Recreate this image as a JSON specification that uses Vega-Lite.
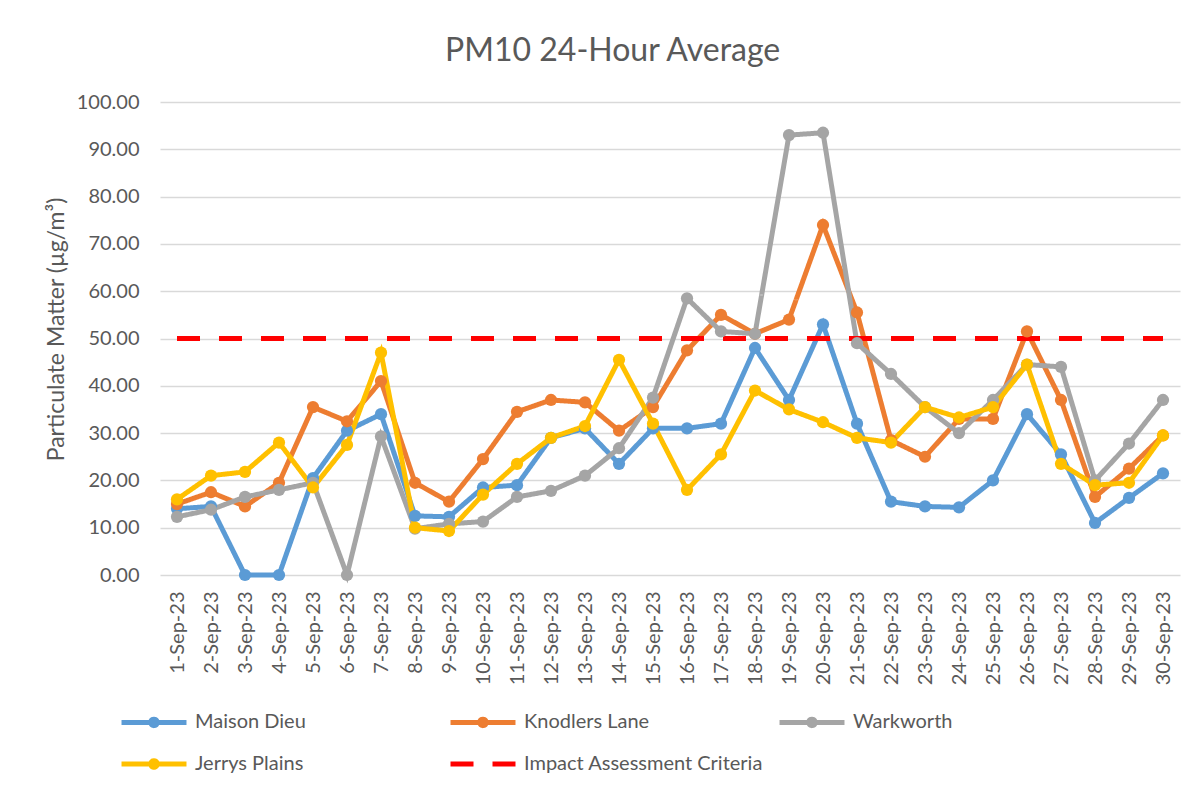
{
  "$schema": "https://vega.github.io/schema/vega-lite/v6.json",
  "autosize": {"type": "none"},
  "width": 1020,
  "height": 473,
  "padding": {"left": 160, "top": 102, "right": 18, "bottom": 214},
  "background": "white",
  "config": {
    "font": "Lato",
    "view": {"stroke": null},
    "axis": {"labelColor": "#595959", "titleColor": "#595959", "titleFontWeight": "normal"}
  },
  "title": {"text": "PM10 24-Hour Average", "fontSize": 32, "fontWeight": "normal", "color": "#595959", "anchor": "middle", "frame": "bounds", "offset": 24},
  "data": {
    "values": [
      {"d": "1-Sep-23", "Maison Dieu": 14.0, "Knodlers Lane": 15.0, "Warkworth": 12.3, "Jerrys Plains": 16.0, "Impact Assessment Criteria": 50},
      {"d": "2-Sep-23", "Maison Dieu": 14.5, "Knodlers Lane": 17.5, "Warkworth": 13.8, "Jerrys Plains": 21.0, "Impact Assessment Criteria": 50},
      {"d": "3-Sep-23", "Maison Dieu": 0.0, "Knodlers Lane": 14.5, "Warkworth": 16.5, "Jerrys Plains": 21.8, "Impact Assessment Criteria": 50},
      {"d": "4-Sep-23", "Maison Dieu": 0.0, "Knodlers Lane": 19.5, "Warkworth": 18.0, "Jerrys Plains": 28.0, "Impact Assessment Criteria": 50},
      {"d": "5-Sep-23", "Maison Dieu": 20.5, "Knodlers Lane": 35.5, "Warkworth": 19.5, "Jerrys Plains": 18.5, "Impact Assessment Criteria": 50},
      {"d": "6-Sep-23", "Maison Dieu": 30.5, "Knodlers Lane": 32.5, "Warkworth": 0.0, "Jerrys Plains": 27.5, "Impact Assessment Criteria": 50},
      {"d": "7-Sep-23", "Maison Dieu": 34.0, "Knodlers Lane": 41.0, "Warkworth": 29.3, "Jerrys Plains": 47.0, "Impact Assessment Criteria": 50},
      {"d": "8-Sep-23", "Maison Dieu": 12.5, "Knodlers Lane": 19.5, "Warkworth": 9.8, "Jerrys Plains": 10.0, "Impact Assessment Criteria": 50},
      {"d": "9-Sep-23", "Maison Dieu": 12.3, "Knodlers Lane": 15.5, "Warkworth": 10.8, "Jerrys Plains": 9.3, "Impact Assessment Criteria": 50},
      {"d": "10-Sep-23", "Maison Dieu": 18.5, "Knodlers Lane": 24.5, "Warkworth": 11.3, "Jerrys Plains": 17.0, "Impact Assessment Criteria": 50},
      {"d": "11-Sep-23", "Maison Dieu": 19.0, "Knodlers Lane": 34.5, "Warkworth": 16.5, "Jerrys Plains": 23.5, "Impact Assessment Criteria": 50},
      {"d": "12-Sep-23", "Maison Dieu": 29.0, "Knodlers Lane": 37.0, "Warkworth": 17.8, "Jerrys Plains": 29.0, "Impact Assessment Criteria": 50},
      {"d": "13-Sep-23", "Maison Dieu": 31.0, "Knodlers Lane": 36.5, "Warkworth": 21.0, "Jerrys Plains": 31.5, "Impact Assessment Criteria": 50},
      {"d": "14-Sep-23", "Maison Dieu": 23.5, "Knodlers Lane": 30.5, "Warkworth": 26.8, "Jerrys Plains": 45.5, "Impact Assessment Criteria": 50},
      {"d": "15-Sep-23", "Maison Dieu": 31.0, "Knodlers Lane": 35.5, "Warkworth": 37.5, "Jerrys Plains": 32.0, "Impact Assessment Criteria": 50},
      {"d": "16-Sep-23", "Maison Dieu": 31.0, "Knodlers Lane": 47.5, "Warkworth": 58.5, "Jerrys Plains": 18.0, "Impact Assessment Criteria": 50},
      {"d": "17-Sep-23", "Maison Dieu": 32.0, "Knodlers Lane": 55.0, "Warkworth": 51.5, "Jerrys Plains": 25.5, "Impact Assessment Criteria": 50},
      {"d": "18-Sep-23", "Maison Dieu": 48.0, "Knodlers Lane": 51.0, "Warkworth": 51.0, "Jerrys Plains": 39.0, "Impact Assessment Criteria": 50},
      {"d": "19-Sep-23", "Maison Dieu": 37.0, "Knodlers Lane": 54.0, "Warkworth": 93.0, "Jerrys Plains": 35.0, "Impact Assessment Criteria": 50},
      {"d": "20-Sep-23", "Maison Dieu": 53.0, "Knodlers Lane": 74.0, "Warkworth": 93.5, "Jerrys Plains": 32.3, "Impact Assessment Criteria": 50},
      {"d": "21-Sep-23", "Maison Dieu": 32.0, "Knodlers Lane": 55.5, "Warkworth": 49.0, "Jerrys Plains": 29.0, "Impact Assessment Criteria": 50},
      {"d": "22-Sep-23", "Maison Dieu": 15.5, "Knodlers Lane": 28.5, "Warkworth": 42.5, "Jerrys Plains": 28.0, "Impact Assessment Criteria": 50},
      {"d": "23-Sep-23", "Maison Dieu": 14.5, "Knodlers Lane": 25.0, "Warkworth": 35.5, "Jerrys Plains": 35.5, "Impact Assessment Criteria": 50},
      {"d": "24-Sep-23", "Maison Dieu": 14.3, "Knodlers Lane": 33.0, "Warkworth": 30.0, "Jerrys Plains": 33.3, "Impact Assessment Criteria": 50},
      {"d": "25-Sep-23", "Maison Dieu": 20.0, "Knodlers Lane": 33.0, "Warkworth": 37.0, "Jerrys Plains": 35.5, "Impact Assessment Criteria": 50},
      {"d": "26-Sep-23", "Maison Dieu": 34.0, "Knodlers Lane": 51.5, "Warkworth": 44.5, "Jerrys Plains": 44.5, "Impact Assessment Criteria": 50},
      {"d": "27-Sep-23", "Maison Dieu": 25.5, "Knodlers Lane": 37.0, "Warkworth": 44.0, "Jerrys Plains": 23.5, "Impact Assessment Criteria": 50},
      {"d": "28-Sep-23", "Maison Dieu": 11.0, "Knodlers Lane": 16.5, "Warkworth": 20.0, "Jerrys Plains": 19.0, "Impact Assessment Criteria": 50},
      {"d": "29-Sep-23", "Maison Dieu": 16.3, "Knodlers Lane": 22.5, "Warkworth": 27.8, "Jerrys Plains": 19.5, "Impact Assessment Criteria": 50},
      {"d": "30-Sep-23", "Maison Dieu": 21.5, "Knodlers Lane": 29.5, "Warkworth": 37.0, "Jerrys Plains": 29.5, "Impact Assessment Criteria": 50}
    ]
  },
  "transform": [
    {"fold": ["Maison Dieu", "Knodlers Lane", "Warkworth", "Jerrys Plains", "Impact Assessment Criteria"], "as": ["series", "value"]}
  ],
  "encoding": {
    "x": {
      "field": "d", "type": "ordinal", "sort": null,
      "scale": {"type": "point", "padding": 0.5},
      "axis": {"title": null, "labelAngle": 270, "labelFontSize": 20, "labelPadding": 16, "ticks": false, "domain": false, "grid": false}
    },
    "y": {
      "field": "value", "type": "quantitative",
      "scale": {"domain": [0, 100], "nice": false, "zero": true},
      "axis": {"title": "Particulate Matter (µg/m³)", "titleFontSize": 23, "titlePadding": 8, "titleY": 227, "values": [0, 10, 20, 30, 40, 50, 60, 70, 80, 90, 100], "format": ".2f", "labelFontSize": 20, "labelPadding": 21, "ticks": false, "domain": false, "grid": true, "gridColor": "#d9d9d9", "gridWidth": 1.5}
    },
    "color": {
      "field": "series", "type": "nominal",
      "scale": {
        "domain": ["Maison Dieu", "Knodlers Lane", "Warkworth", "Jerrys Plains", "Impact Assessment Criteria"],
        "range": ["#5B9BD5", "#ED7D31", "#A5A5A5", "#FFC000", "#FF0000"]
      },
      "legend": {
        "title": null, "orient": "none", "legendX": -25, "legendY": 601, "columns": 3, "direction": "horizontal",
        "gridAlign": "all", "columnPadding": 5, "rowPadding": 9,
        "labelFontSize": 20, "labelColor": "#595959", "labelOffset": 22, "labelLimit": 400,
        "symbolSize": 1056, "symbolStrokeWidth": 5, "symbolOpacity": 1,
        "encode": {
          "symbols": {
            "update": {
              "fill": {"signal": "datum.value === 'Impact Assessment Criteria' ? 'transparent' : scale('color', datum.value)"},
              "stroke": {"signal": "scale('color', datum.value)"},
              "strokeDash": {"signal": "datum.value === 'Impact Assessment Criteria' ? [22, 21] : [1, 0]"},
              "shape": {"signal": "datum.value === 'Impact Assessment Criteria' ? 'M-2,0L2,0' : 'M-2,0L2,0M-0.2,0A0.2,0.2 0 1,0 0.2,0A0.2,0.2 0 1,0 -0.2,0'"}
            }
          }
        }
      }
    }
  },
  "layer": [
    {
      "mark": {"type": "line", "strokeWidth": 5},
      "encoding": {
        "strokeDash": {
          "field": "series", "type": "nominal",
          "scale": {
            "domain": ["Maison Dieu", "Knodlers Lane", "Warkworth", "Jerrys Plains", "Impact Assessment Criteria"],
            "range": [[1, 0], [1, 0], [1, 0], [1, 0], [23, 19]]
          },
          "legend": null
        }
      }
    },
    {
      "transform": [{"filter": "datum.series !== 'Impact Assessment Criteria'"}],
      "mark": {"type": "point", "filled": true, "opacity": 1, "size": 150, "shape": "circle"}
    }
  ]
}
